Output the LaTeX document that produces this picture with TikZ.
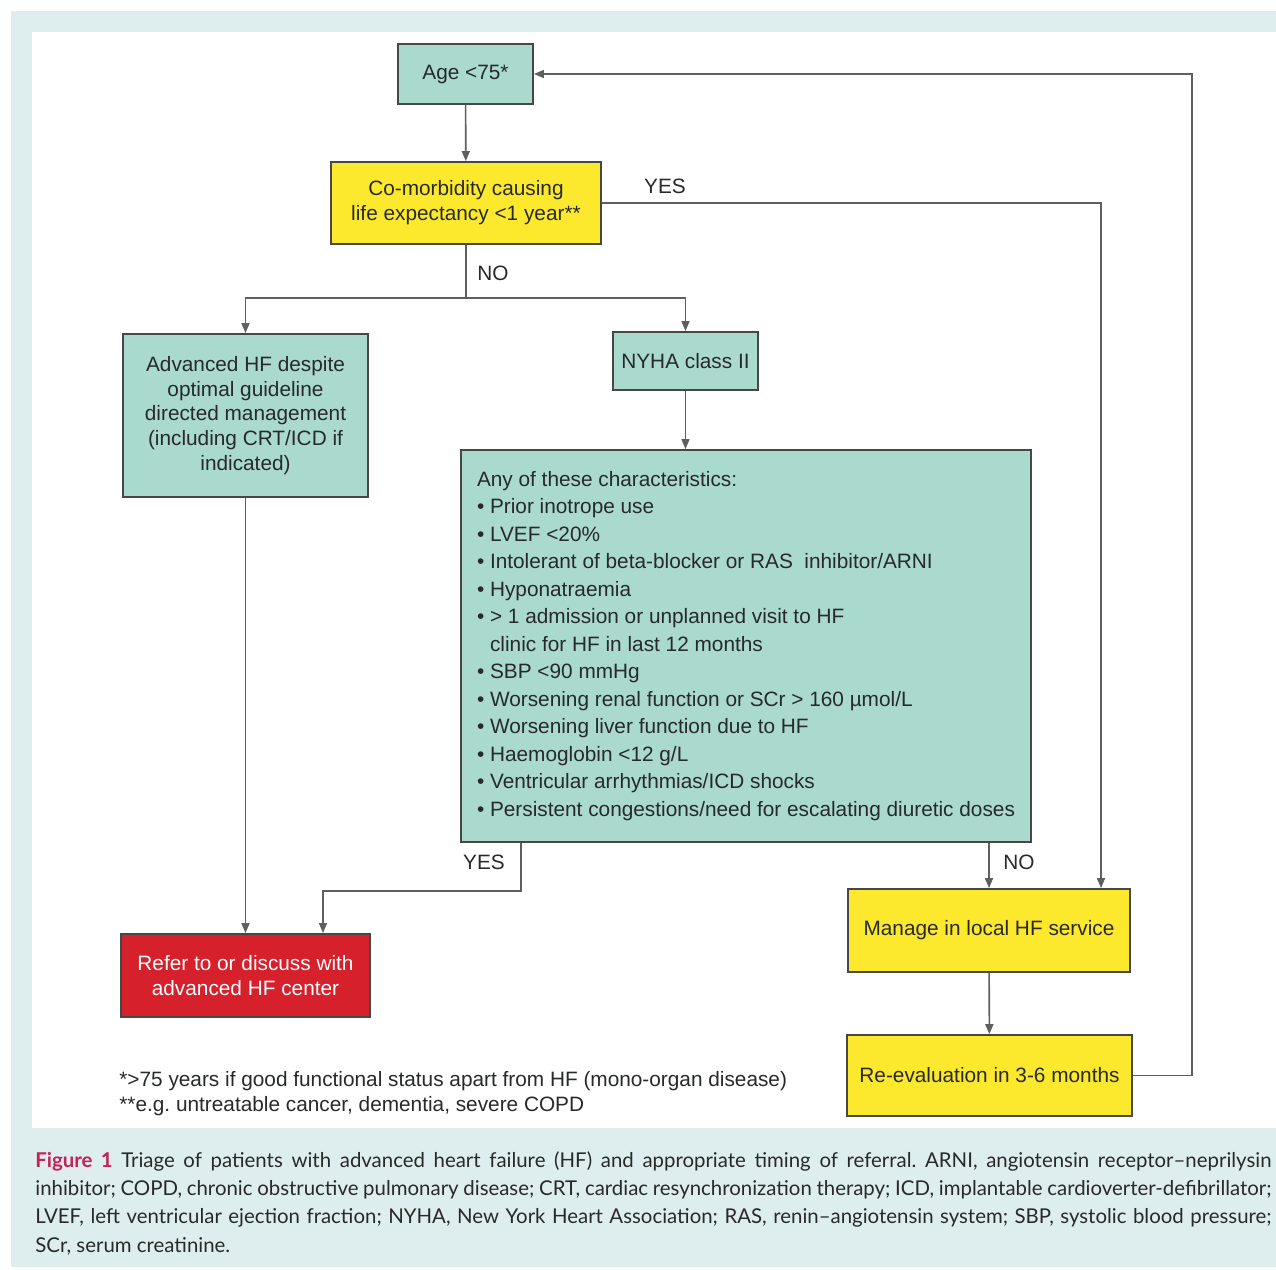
\documentclass[tikz,border=0pt]{standalone}
\usepackage{fontspec}
\setmainfont{Liberation Sans}
\newfontfamily\capfont[Ligatures=TeX]{Lato}
\usetikzlibrary{arrows.meta}

\definecolor{boxteal}{RGB}{170,217,205}
\definecolor{boxyellow}{RGB}{252,232,44}
\definecolor{boxred}{RGB}{214,32,44}
\definecolor{framecyan}{RGB}{222,237,238}
\definecolor{figred}{RGB}{196,34,88}
\definecolor{inkgray}{RGB}{70,72,72}
\definecolor{linegray}{RGB}{95,95,95}
\definecolor{textgray}{RGB}{40,42,42}

\frenchspacing
\begin{document}
\begin{tikzpicture}[x=0.5pt,y=-0.5pt,
  box/.style={draw=inkgray, line width=0.9pt, inner sep=0pt, align=center,
    text=textgray, font=\fontsize{10.4}{12.4}\selectfont},
  tealbox/.style={box, fill=boxteal},
  yellowbox/.style={box, fill=boxyellow},
  redbox/.style={box, fill=boxred, text=white},
  conn/.style={draw=linegray, line width=0.8pt},
  arr/.style={conn, -{Triangle[length=5pt,width=4pt]}},
  lbl/.style={inner sep=0pt, text=textgray, font=\fontsize{10.4}{12.4}\selectfont},
  note/.style={anchor=west, inner sep=0pt, text=textgray, font=\fontsize{10.4}{12.4}\selectfont},
  capline/.style={anchor=base west, inner sep=0pt, text=textgray, font=\capfont\fontsize{10.2}{14}\selectfont}
]
\useasboundingbox (0,0) rectangle (1276,1270);

% page frame and caption panel
\fill[white] (0,0) rectangle (1276,1270);
\fill[framecyan] (11,11) rectangle (1276,1267);
\fill[white] (32,32) rectangle (1276,1128);

% boxes
\node[tealbox, minimum width=67.5pt, minimum height=30pt] (age) at (465.5,74) {Age <75*};
\node[yellowbox, minimum width=135pt, minimum height=41pt] (comorb) at (466,203)
  {Co-morbidity causing\\life expectancy <1 year**};
\node[tealbox, minimum width=122.5pt, minimum height=81.5pt] (adv) at (245.5,415.5)
  {Advanced HF despite\\optimal guideline\\directed management\\(including CRT/ICD if\\indicated)};
\node[tealbox, minimum width=72.5pt, minimum height=29pt] (nyha) at (685.5,361) {NYHA class II};
\node[tealbox, align=left, minimum width=285pt, minimum height=196pt,
  font=\fontsize{10.4}{13.75}\selectfont] (big) at (746,646)
  {Any of these characteristics:\\
   \textbullet\ Prior inotrope use\\
   \textbullet\ LVEF <20\%\\
   \textbullet\ Intolerant of beta-blocker or RAS\ \ inhibitor/ARNI\\
   \textbullet\ Hyponatraemia\\
   \textbullet\ > 1 admission or unplanned visit to HF\\
   \phantom{\textbullet\ }clinic for HF in last 12 months\\
   \textbullet\ SBP <90 mmHg\\
   \textbullet\ Worsening renal function or SCr > 160 µmol/L\\
   \textbullet\ Worsening liver function due to HF\\
   \textbullet\ Haemoglobin <12 g/L\\
   \textbullet\ Ventricular arrhythmias/ICD shocks\\
   \textbullet\ Persistent congestions/need for escalating diuretic doses};
\node[redbox, minimum width=124.5pt, minimum height=41.5pt] (refer) at (245.5,975.5)
  {Refer to or discuss with\\advanced HF center};
\node[yellowbox, minimum width=141pt, minimum height=41.5pt] (manage) at (989,930.5)
  {Manage in local HF service};
\node[yellowbox, minimum width=142.5pt, minimum height=40.5pt] (reeval) at (989.5,1075.5)
  {Re-evaluation in 3-6 months};

% routing points
\coordinate (split) at (466,298);
\coordinate (yescorner) at (1101,203);
\coordinate (loopc) at (1192,74);
\coordinate (yesx) at (521,891);
\coordinate (referx) at (323,891);

% connectors
\draw[arr] (age) -- (comorb);
\draw[conn] (comorb.south) -- (split);
\draw[arr] (split) -| (adv.north);
\draw[arr] (split) -| (nyha.north);
\draw[arr] (comorb.east) -- (yescorner) -- (yescorner |- manage.north);
\draw[arr] (reeval.east) -| (loopc) -- (age.east);
\draw[arr] (nyha.south) -- (nyha.south |- big.north);
\draw[arr] (big.south -| yesx) -- (yesx) -- (referx) -- (referx |- refer.north);
\draw[arr] (adv.south) -- (adv.south |- refer.north);
\draw[arr] (big.south -| manage.north) -- (manage.north);
\draw[arr] (manage) -- (reeval);

% branch labels
\node[lbl] (yes1) at (665,186) {YES};
\node[lbl] (no1) at (493,273) {NO};
\node[lbl] (yes2) at (484,862) {YES};
\node[lbl] (no2) at (1019,862) {NO};

% footnotes
\node[note] (fn1) at (119,1081) {*>75 years if good functional status apart from HF (mono-organ disease)};
\node[note] (fn2) at (119,1106) {**e.g. untreatable cancer, dementia, severe COPD};

% caption
\node[capline] (cap1) at (35,1167) {\makebox[618pt][s]{\textcolor{figred}{\bfseries Figure 1} Triage of patients with advanced heart failure (HF) and appropriate timing of referral. ARNI, angiotensin receptor–neprilysin}};
\node[capline] (cap2) at (35,1195) {\makebox[618pt][s]{inhibitor; COPD, chronic obstructive pulmonary disease; CRT, cardiac resynchronization therapy; ICD, implantable cardioverter-defibrillator;}};
\node[capline] (cap3) at (35,1223) {\makebox[618pt][s]{LVEF, left ventricular ejection fraction; NYHA, New York Heart Association; RAS, renin–angiotensin system; SBP, systolic blood pressure;}};
\node[capline] (cap4) at (35,1252) {SCr, serum creatinine.};
\end{tikzpicture}
\end{document}
